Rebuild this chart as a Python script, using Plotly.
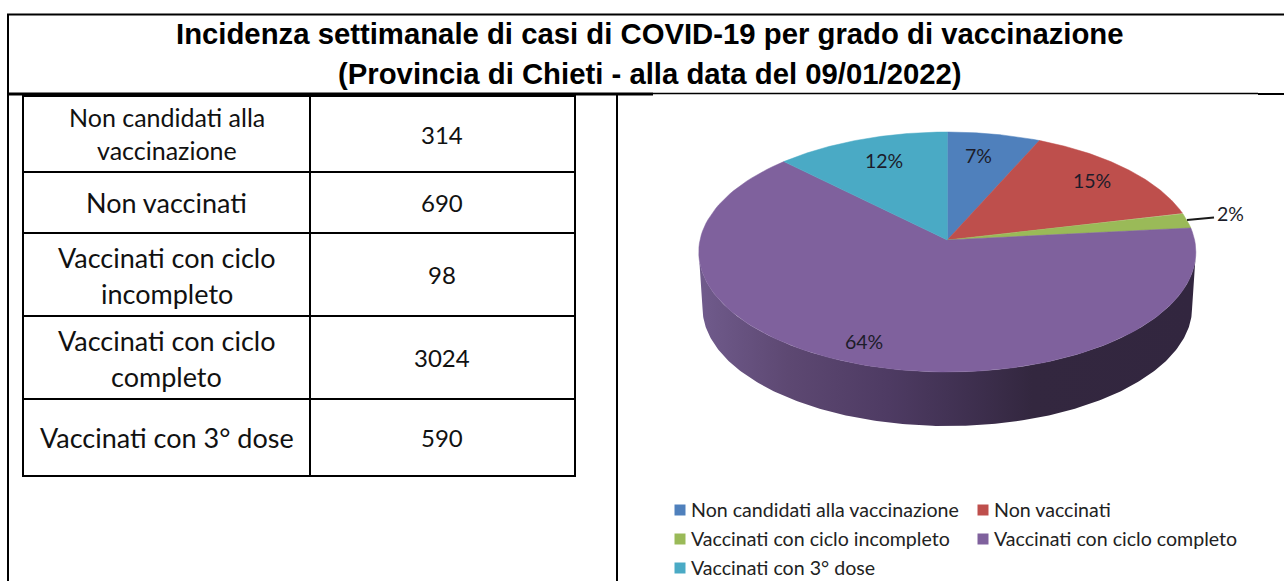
import numpy as np
import plotly.graph_objects as go

categories = ["Non candidati alla vaccinazione", "Non vaccinati", "Vaccinati con ciclo incompleto",
              "Vaccinati con ciclo completo", "Vaccinati con 3° dose"]
values = [314, 690, 98, 3024, 590]
percent_labels = ["7%", "15%", "2%", "64%", "12%"]
colors = ["#4F80BC", "#BE4F4C", "#9ABA58", "#7F619D", "#4AAAC5"]
table_lines = [["Non candidati alla", "vaccinazione"], ["Non vaccinati"], ["Vaccinati con ciclo", "incompleto"],
               ["Vaccinati con ciclo", "completo"], ["Vaccinati con 3° dose"]]
title_lines = ["Incidenza settimanale di casi di COVID-19 per grado di vaccinazione",
               "(Provincia di Chieti - alla data del 09/01/2022)"]

# layout (pixels, y downward)
CX, CY = 947.3, 240.0
A, B, K = 247.3, 118.8, 0.10
DEPTH, SHRINK = 56.0, 0.985
BODY = "Lato"
TITLE = "Liberation Sans"


def rim(theta, s=1.0, dy=0.0):
    d = 1 + K * np.cos(theta)
    return CX + s * A * np.sin(theta) / d, CY + dy - s * B * np.cos(theta) / d


fig = go.Figure()

# side wall with horizontal gradient
th_e = np.arccos(-K)
th_near = np.linspace(th_e, 2 * np.pi - th_e, 240)
xt, yt = rim(th_near)
xb, yb = rim(th_near, SHRINK, DEPTH)
fig.add_trace(go.Scatter(
    x=np.r_[xb, xt[::-1]], y=np.r_[yb, yt[::-1]], mode="lines", line=dict(width=0),
    fill="toself", hoverinfo="skip", showlegend=False,
    fillgradient=dict(type="horizontal", start=1196, stop=699,
                      colorscale=[[0, "#32263F"], [0.33, "#33273F"], [0.46, "#3F3050"],
                                  [0.62, "#4E3B63"], [0.82, "#5D4872"], [1, "#705B8C"]]),
))

# top face slices
fractions = np.cumsum([0] + values) / sum(values)
for i, c in enumerate(categories):
    th = np.linspace(fractions[i], fractions[i + 1], 120) * 2 * np.pi
    x, y = rim(th)
    fig.add_trace(go.Scatter(
        x=np.r_[CX, x, CX], y=np.r_[CY, y, CY], mode="lines", line=dict(width=0.5, color=colors[i]),
        fill="toself", fillcolor=colors[i], name=c, showlegend=False, hovertemplate=f"{c}: {values[i]}<extra></extra>",
    ))

# leader for the small slice
fig.add_trace(go.Scatter(x=[1187, 1214], y=[220, 217.5], mode="lines",
                         line=dict(color="#1a1a1a", width=2), hoverinfo="skip", showlegend=False))

# legend squares
leg_x = [680, 983, 680, 983, 680]
leg_y = [510, 510, 539, 539, 568]
fig.add_trace(go.Scatter(x=leg_x, y=leg_y, mode="markers", hoverinfo="skip", showlegend=False,
                         marker=dict(symbol="square", size=11, color=colors, line=dict(width=0))))


def label(x, y, text, size, family=BODY, color="#111111", anchor="center", bold=False):
    t = f"<b>{text}</b>" if bold else text
    fig.add_annotation(x=x, y=y, text=t, showarrow=False, xanchor=anchor, yanchor="middle",
                       font=dict(family=family, size=size, color=color), borderpad=0, borderwidth=0)


# title
label(650, 33, title_lines[0], 29.3, TITLE, "#000000", bold=True)
label(650, 73, title_lines[1], 29.3, TITLE, "#000000", bold=True)

# slice labels
pct_xy = [(978, 155.5), (1092, 180.5), (1230, 213.5), (864, 341.5), (884, 160.5)]
for (px, py), t in zip(pct_xy, percent_labels):
    label(px, py, t, 19.5, color="#1c1c2a")

# legend text
for i, c in enumerate(categories):
    label(leg_x[i] + 11, leg_y[i] - 1, c, 19.6, color="#222222", anchor="left")

# table
rows_y = [96, 172, 233, 316, 399, 476]
line_y = [[116.5, 149.5], [202], [257, 293], [340, 376], [437]]
line_size = [25, 27, 27, 27, 27]
for i in range(5):
    for txt, ly in zip(table_lines[i], line_y[i]):
        label(166.5, ly, txt, line_size[i])
    label(442, (rows_y[i] + rows_y[i + 1]) / 2, str(values[i]), 24)

shapes = []


def hv(x0, y0, x1, y1, w=2, color="#000000"):
    shapes.append(dict(type="line", xref="x", yref="y", x0=x0, y0=y0, x1=x1, y1=y1,
                       line=dict(color=color, width=w)))


hv(7, 14.5, 1284, 14.5, 2)
hv(8, 14, 8, 581, 2)
hv(7, 94, 653, 94, 3)
hv(653, 93.5, 1258, 93.5, 1.4)
hv(1258, 94, 1284, 94, 2)
hv(617, 94, 617, 581, 2)
for ry in rows_y:
    hv(22, ry, 576, ry, 2)
hv(23, 96, 23, 477, 2)
hv(310, 96, 310, 477, 2)
hv(575, 96, 575, 477, 2)

fig.update_layout(
    width=1284, height=581, margin=dict(l=0, r=0, t=0, b=0), paper_bgcolor="white", plot_bgcolor="white",
    xaxis=dict(range=[0, 1284], visible=False, fixedrange=True),
    yaxis=dict(range=[581, 0], visible=False, fixedrange=True),
    shapes=shapes, showlegend=False,
)
fig.write_html("out.html", config=dict(displayModeBar=False),
               post_script="document.body.style.margin='0';document.documentElement.style.overflow='hidden';")
